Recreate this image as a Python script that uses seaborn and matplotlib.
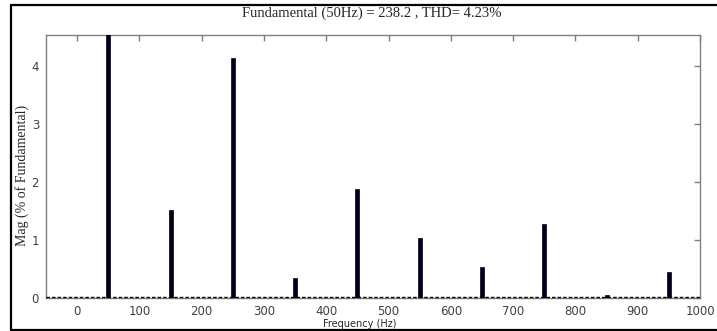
import numpy as np
import pandas as pd
import matplotlib
matplotlib.use("Agg")
import matplotlib.pyplot as plt
from matplotlib.lines import Line2D
import seaborn as sns

# harmonic spectrum (% of fundamental), fundamental clipped at top
freq_hz = [50, 150, 250, 350, 450, 550, 650, 750, 850, 950]
mag_pct = [100.0, 1.52, 4.14, 0.34, 1.87, 1.04, 0.53, 1.28, 0.06, 0.45]
x_ticks = [0, 100, 200, 300, 400, 500, 600, 700, 800, 900, 1000]
y_ticks = [0, 1, 2, 3, 4]
title = "Fundamental (50Hz) = 238.2 , THD= 4.23%"

BAR = "#00001a"
GRAY = "#808080"

sns.set_style("white")

df = pd.DataFrame({"freq": freq_hz, "mag": mag_pct})

fig = plt.figure(figsize=(7.17, 3.31), dpi=100)
ax = fig.add_axes([46 / 717, 1 - 298 / 331, 654 / 717, 263 / 331])

sns.barplot(data=df, x="freq", y="mag", native_scale=True, width=0.065,
            color=BAR, saturation=1, edgecolor=BAR, linewidth=0.5, ax=ax)
for p in ax.patches:
    p.set_zorder(2)
# dashed baseline (drawn under the bars, over the axis line)
ax.axhline(0.012, color="black", linestyle=(0, (2.5, 1.5)), linewidth=1.0,
           zorder=1, clip_on=False)

ax.set_xlim(-50, 1000)
ax.set_ylim(0, 4.53)
ax.set_xticks(x_ticks)
ax.set_yticks(y_ticks)
ax.set_xlabel("")
ax.set_ylabel("")

for s in ax.spines.values():
    s.set_color(GRAY)
    s.set_linewidth(1.0)
    s.set_zorder(0)
ax.tick_params(direction="in", length=4, width=1, color=GRAY,
               top=True, right=True, labelsize=8.5, labelcolor="#404040", pad=5)
for lab in ax.get_xticklabels() + ax.get_yticklabels():
    lab.set_family("DejaVu Sans")

fig.text(372 / 717, 1 - 13 / 331, title, ha="center", va="center",
         family="Liberation Serif", fontsize=10.5)
fig.text(22 / 717, 1 - 175 / 331, "Mag (% of Fundamental)", rotation=90,
         ha="center", va="center", family="Liberation Serif", fontsize=10)
fig.text(360 / 717, 1 - 324 / 331, "Frequency (Hz)", ha="center", va="center",
         family="DejaVu Sans", fontsize=7)

# outer frame (top, left, bottom)
fig.add_artist(Line2D([10.5 / 717, 1], [1 - 4.5 / 331] * 2, color="black", lw=1.6,
                      transform=fig.transFigure))
fig.add_artist(Line2D([10.5 / 717] * 2, [1 - 4.5 / 331, 1 - 329.5 / 331], color="black",
                      lw=1.6, transform=fig.transFigure))
fig.add_artist(Line2D([10.5 / 717, 1], [1 - 329.5 / 331] * 2, color="black", lw=1.6,
                      transform=fig.transFigure))

fig.savefig("out.png", dpi=100, facecolor="white")
